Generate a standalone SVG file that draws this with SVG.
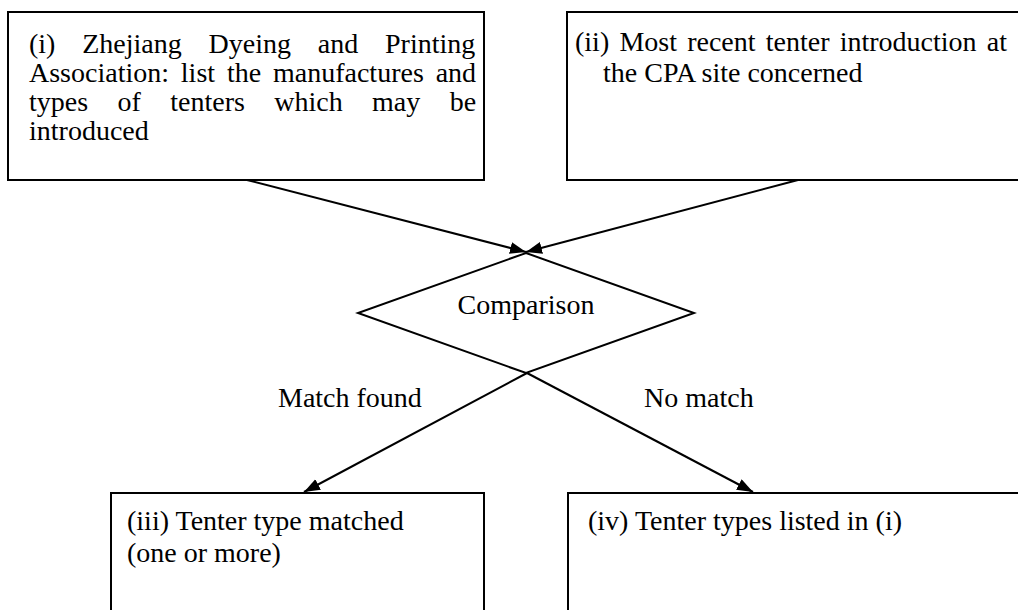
<svg xmlns="http://www.w3.org/2000/svg" width="1018" height="610" viewBox="0 0 1018 610">
  <style>
    .box { fill: #ffffff; stroke: #000000; stroke-width: 2; }
    .edge { fill: none; stroke: #000000; stroke-width: 2; }
    .t { font-family: 'Liberation Serif', 'Times New Roman', Times, serif; font-size: 28px; fill: #000000; }
    .mid { text-anchor: middle; }
  </style>
  <defs>
    <marker id="arrow" markerUnits="userSpaceOnUse" markerWidth="17" markerHeight="13" refX="16" refY="6" orient="auto">
      <path d="M0,0 L16,6 L0,12 Z" fill="#000000"/>
    </marker>
  </defs>

  <rect x="0" y="0" width="1018" height="610" fill="#ffffff"/>

  <!-- connectors -->
  <g id="connectors">
    <path class="edge" d="M247,180 L526,252" marker-end="url(#arrow)"/>
    <path class="edge" d="M798,180 L526,252" marker-end="url(#arrow)"/>
    <path class="edge" d="M527,373 L304,492" marker-end="url(#arrow)"/>
    <path class="edge" d="M527,373 L753,492" marker-end="url(#arrow)"/>
    <text class="t" font-family="Liberation Serif, serif" x="278" y="407">Match found</text>
    <text class="t" font-family="Liberation Serif, serif" x="644" y="407">No match</text>
  </g>

  <!-- (i) source listing -->
  <g id="node-i" font-family="Liberation Serif, serif">
    <rect class="box" x="8" y="12" width="476" height="168"/>
    <text class="t" x="29" y="53" word-spacing="19.8">(i) Zhejiang Dyeing and Printing</text>
    <text class="t" x="29" y="82" word-spacing="4.85">Association: list the manufactures and</text>
    <text class="t" x="29" y="111" word-spacing="22.4">types of tenters which may be</text>
    <text class="t" x="29" y="140">introduced</text>
  </g>

  <!-- (ii) site record -->
  <g id="node-ii">
    <rect class="box" x="567" y="12" width="470" height="168"/>
    <text class="t" x="575" y="51" word-spacing="3.2">(ii) Most recent tenter introduction at</text>
    <text class="t" x="603" y="82">the CPA site concerned</text>
  </g>

  <!-- decision -->
  <g id="node-comparison">
    <polygon class="box" points="526,253 694,313 526,373 358,313"/>
    <text class="t mid" x="526" y="314">Comparison</text>
  </g>

  <!-- (iii) matched -->
  <g id="node-iii">
    <rect class="box" x="111" y="493" width="373" height="140"/>
    <text class="t" x="127" y="530">(iii) Tenter type matched</text>
    <text class="t" x="127" y="562">(one or more)</text>
  </g>

  <!-- (iv) not matched -->
  <g id="node-iv">
    <rect class="box" x="568" y="493" width="470" height="140"/>
    <text class="t" x="588" y="530">(iv) Tenter types listed in (i)</text>
  </g>
</svg>
